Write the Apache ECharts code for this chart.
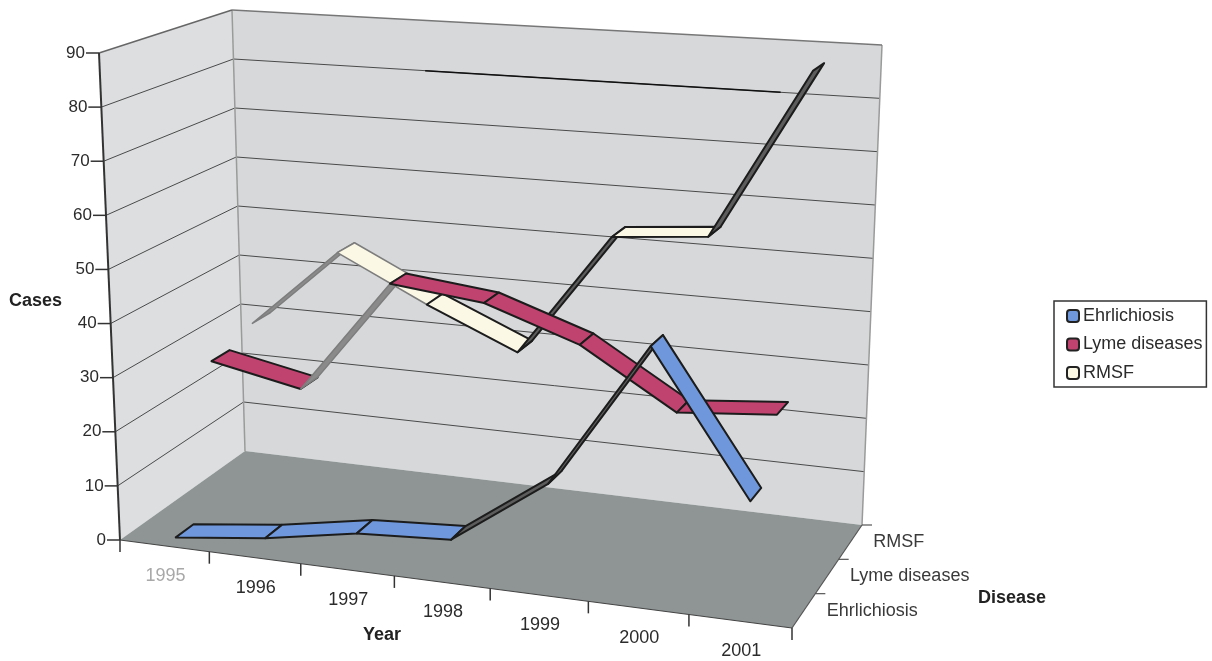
<!DOCTYPE html>
<html>
<head>
<meta charset="utf-8">
<style>
html, body { margin: 0; padding: 0; background: #fff; }
#container { width: 1212px; height: 661px; }
</style>
<script src="https://cdn.jsdelivr.net/npm/echarts@6/dist/echarts.min.js"></script>
</head>
<body>
<div id="container"></div>
<script>
var years = ['1995', '1996', '1997', '1998', '1999', '2000', '2001'];
var diseases = ['Ehrlichiosis', 'Lyme diseases', 'RMSF'];
var valueTicks = [0, 10, 20, 30, 40, 50, 60, 70, 80, 90];

var ehrlichiosis = [0, 2, 5, 6, 18, 44, 19];
var lyme = [28, 24.5, 46, 44, 38, 27.5, 29];
var rmsf = [30.5, 46, 37.5, 30, 53.5, 55, 87];

// segments the scan has washed out to grey
var fadedLyme = [1];
var fadedRmsf = [0, 1];

// corners of the drawn box, screen pixels
var FLB = [120, 540], FRB = [792, 628], BLB = [245, 451], BRB = [862, 525];
var FLT = [99, 53], FRT = [810, 97], BLT = [232, 10], BRT = [882, 45];
var RATIO = 0.92;   // foreshortening along the year axis
var YMAX = 90;
var FONT = 'Liberation Sans, Arial, sans-serif';

function mix(a, b, t) {
    return [a[0] + (b[0] - a[0]) * t, a[1] + (b[1] - a[1]) * t];
}

// x in years (0..7), val in cases, depth in diseases (0..3)
function project(api, params, x, val, depth) {
    var p = api.coord([x, val]);
    var cs = params.coordSys;
    var u = (p[0] - cs.x) / cs.width;
    var v = (cs.y + cs.height - p[1]) / cs.height;
    var d = depth / diseases.length;
    u = u * RATIO / (1 + u * (RATIO - 1));
    var bottom = mix(mix(FLB, FRB, u), mix(BLB, BRB, u), d);
    var top = mix(mix(FLT, FRT, u), mix(BLT, BRT, u), d);
    return mix(bottom, top, v);
}

function poly(points, fill, stroke, width) {
    return {
        type: 'polygon',
        shape: { points: points },
        style: { fill: fill, stroke: stroke || null, lineWidth: width || 0, lineJoin: 'round' }
    };
}

function seg(a, b, color, width) {
    return {
        type: 'line',
        shape: { x1: a[0], y1: a[1], x2: b[0], y2: b[1] },
        style: { stroke: color, lineWidth: width }
    };
}

function label(pos, text, align, size, color) {
    return {
        type: 'text',
        x: pos[0],
        y: pos[1],
        style: {
            text: text,
            fill: color || '#2b2b2b',
            fontSize: size,
            fontFamily: FONT,
            align: align,
            textAlign: align,
            verticalAlign: 'middle',
            textVerticalAlign: 'middle'
        }
    };
}

function renderBox(params, api) {
    var n = years.length, m = diseases.length, c = [], i;
    function P(x, val, d) { return project(api, params, x, val, d); }

    c.push(poly([P(0, 0, 0), P(0, YMAX, 0), P(0, YMAX, m), P(0, 0, m)], '#dcdee0'));
    c.push(poly([P(0, 0, m), P(0, YMAX, m), P(n, YMAX, m), P(n, 0, m)], '#d6d8da'));
    c.push(poly([P(0, 0, 0), P(0, 0, m), P(n, 0, m), P(n, 0, 0)], '#8f9595'));

    for (i = 1; i < valueTicks.length; i++) {
        var t = valueTicks[i];
        if (t !== YMAX) {
            c.push(seg(P(0, t, 0), P(0, t, m), '#4a4a4a', 1));
            c.push(seg(P(0, t, m), P(n, t, m), '#4a4a4a', 1));
        }
    }
    c.push(seg(P(2.2, 80, m), P(6, 80, m), '#111', 1.5));

    c.push(seg(P(0, 0, m), P(0, YMAX, m), '#9a9a9a', 1.5));
    c.push(seg(P(n, 0, m), P(n, YMAX, m), '#9a9a9a', 1.5));
    c.push(seg(P(0, YMAX, 0), P(0, YMAX, m), '#666', 1.5));
    c.push(seg(P(0, YMAX, m), P(n, YMAX, m), '#777', 1.5));
    c.push(seg(P(0, 0, 0), P(0, YMAX, 0), '#333', 2));
    c.push(seg(P(0, 0, 0), P(n, 0, 0), '#444', 1.2));
    c.push(seg(P(n, 0, 0), P(n, 0, m), '#555', 1.2));

    for (i = 0; i < valueTicks.length; i++) {
        var a = P(0, valueTicks[i], 0);
        c.push(seg([a[0] - 13, a[1]], a, '#333', 1.5));
        c.push(label([a[0] - 14, a[1]], String(valueTicks[i]), 'right', 17));
    }
    for (i = 0; i <= n; i++) {
        var b = P(i, 0, 0);
        c.push(seg(b, [b[0], b[1] + 12], '#333', 1.5));
    }
    for (i = 0; i < n; i++) {
        var e = P(i + 0.5, 0, 0);
        c.push(label([e[0] + 1, e[1] + 30], years[i], 'center', 18, i === 0 ? '#a8a8a8' : '#2b2b2b'));
    }
    for (i = 1; i <= m; i++) {
        var f = P(n, 0, i);
        c.push(seg(f, [f[0] + 10, f[1]], '#555', 1.2));
    }
    for (i = 0; i < m; i++) {
        var g = P(n, 0, i + 0.5);
        c.push(label([g[0] + 23, g[1]], diseases[i], 'left', 18, '#3a3a3a'));
    }
    return { type: 'group', children: c };
}

var HALF = 0.22;   // half the ribbon width, in disease units

function ribbonRenderer(depth, top, under, faded) {
    return function (params, api) {
        var i = params.dataIndex;
        var x0 = api.value(0), v0 = api.value(1), v1 = api.value(2);
        var pts = [
            project(api, params, x0, v0, depth - HALF),
            project(api, params, x0, v0, depth + HALF),
            project(api, params, x0 + 1, v1, depth + HALF),
            project(api, params, x0 + 1, v1, depth - HALF)
        ];
        var area = 0;
        for (var k = 0; k < 4; k++) {
            var q = pts[(k + 1) % 4];
            area += pts[k][0] * q[1] - q[0] * pts[k][1];
        }
        var isFaded = faded.indexOf(i) >= 0;
        // nearly edge-on segments read as the dark underside
        var fill = area > 1600 ? top : under;
        if (isFaded && area <= 1600) {
            fill = '#8a8a8a';
        }
        return poly(pts, fill, isFaded ? '#7d7d7d' : '#1c1c1c', isFaded ? 1.5 : 2);
    };
}

function segments(values) {
    var out = [];
    for (var i = 0; i < values.length - 1; i++) {
        out.push([i + 0.5, values[i], values[i + 1]]);
    }
    return out;
}

function ribbonSeries(name, values, depth, top, faded, z) {
    return {
        name: name,
        type: 'custom',
        coordinateSystem: 'cartesian2d',
        renderItem: ribbonRenderer(depth, top, '#5c5c5c', faded),
        data: segments(values),
        itemStyle: { color: top, borderColor: '#222', borderWidth: 2 },
        silent: true,
        z: z
    };
}

var myChart = echarts.init(document.getElementById('container'));
var option = {
    animation: false,
    backgroundColor: '#fff',
    grid: { left: 100, top: 50, width: 700, height: 490 },
    xAxis: { type: 'value', min: 0, max: years.length, show: false },
    yAxis: { type: 'value', min: 0, max: YMAX, interval: 10, show: false },
    legend: {
        data: diseases,
        orient: 'vertical',
        left: 1054,
        top: 301,
        padding: [6, 4, 5, 12],
        itemWidth: 12,
        itemHeight: 12,
        itemGap: 10.5,
        borderColor: '#333',
        borderWidth: 1.5,
        selectedMode: false,
        textStyle: {
            color: '#2b2b2b',
            fontSize: 18,
            padding: [0, 0, 0, -1],
            fontFamily: FONT
        }
    },
    graphic: [
        { type: 'text', left: 9, top: 292, style: { text: 'Cases', fill: '#222', font: 'bold 18px ' + FONT } },
        { type: 'text', left: 363, top: 626, style: { text: 'Year', fill: '#222', font: 'bold 18px ' + FONT } },
        { type: 'text', left: 978, top: 589, style: { text: 'Disease', fill: '#222', font: 'bold 18px ' + FONT } }
    ],
    series: [
        {
            type: 'custom',
            coordinateSystem: 'cartesian2d',
            renderItem: renderBox,
            data: [[0, 0]],
            silent: true,
            z: 1
        },
        ribbonSeries('RMSF', rmsf, 2.5, '#fbf8e6', fadedRmsf, 2),
        ribbonSeries('Lyme diseases', lyme, 1.5, '#c0426f', fadedLyme, 3),
        ribbonSeries('Ehrlichiosis', ehrlichiosis, 0.5, '#6f98dc', [], 4)
    ]
};
myChart.setOption(option);
</script>
</body>
</html>
